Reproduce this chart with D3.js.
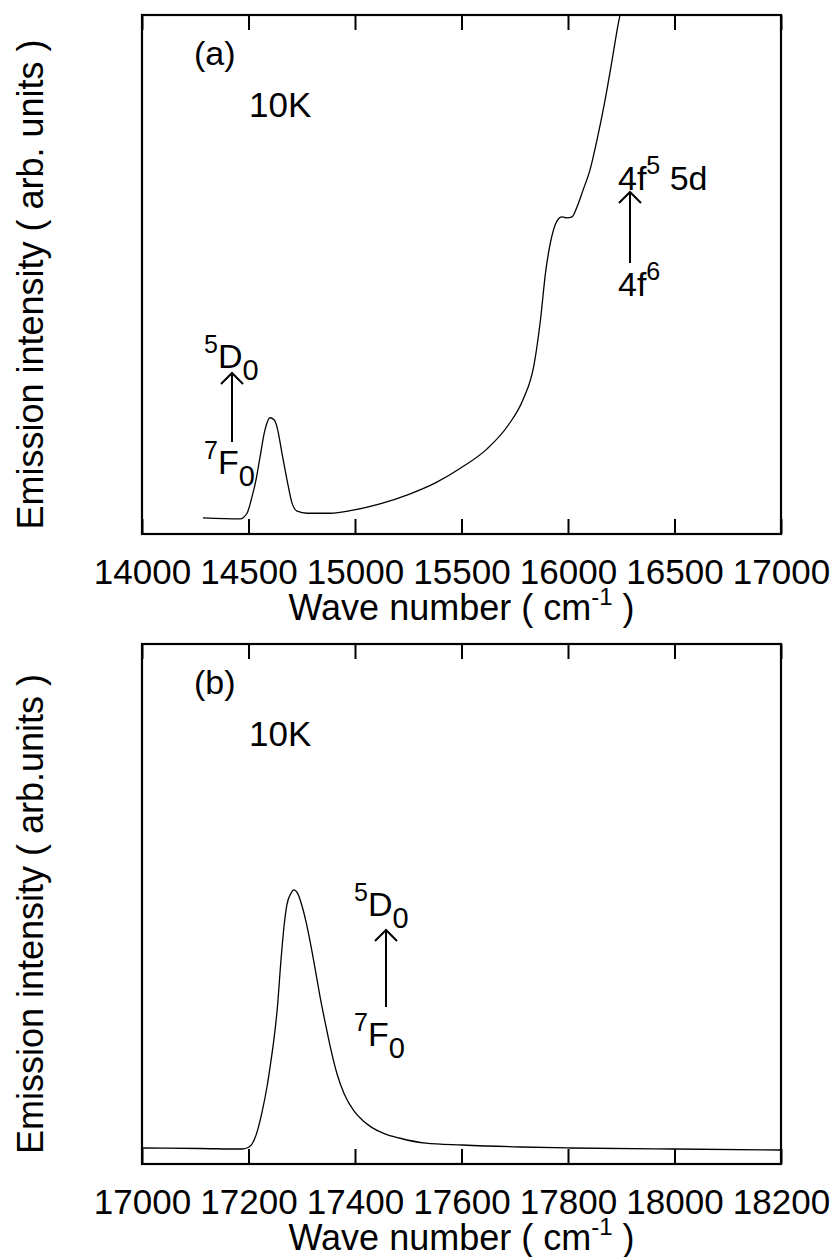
<!DOCTYPE html>
<html>
<head>
<meta charset="utf-8">
<script src="https://cdn.jsdelivr.net/npm/d3@7"></script>
<style>
  body { margin: 0; background: #fff; }
  text { font-family: "Liberation Sans", Arial, Helvetica, sans-serif; fill: #000; }
</style>
</head>
<body>
<div id="chart"></div>
<script>
// panel (a): emission at 10K, 14000 - 17000 cm-1
const waveA = [14286, 14460, 14493, 14516, 14535, 14554, 14577, 14601, 14620, 14634, 14657,
  14681, 14704, 14728, 14775, 14883, 14991, 15117, 15250, 15380, 15500, 15620, 15720, 15790,
  15840, 15870, 15895, 15922, 15948, 15972, 15995, 16019, 16042, 16071, 16103, 16136, 16174,
  16207, 16235, 16254];
const intensityA = [3.1, 2.9, 4.0, 7.1, 10.4, 14.8, 20.0, 22.4, 22.0, 20.6, 15.6,
  10.4, 6.0, 4.4, 4.0, 4.0, 4.6, 5.8, 7.6, 9.9, 12.8, 16.4, 21.0, 26.0,
  32.5, 41.0, 50.5, 57.0, 60.3, 61.1, 60.9, 61.1, 63.0, 66.3, 70.1, 75.9, 83.6,
  91.3, 98.1, 101.9];
const ticksA = [14000, 14500, 15000, 15500, 16000, 16500, 17000];

// panel (b): 17000 - 18200 cm-1
const waveB = [17000, 17109, 17188, 17201, 17214, 17225, 17235, 17240, 17248, 17254, 17261,
  17267, 17272, 17280, 17285, 17293, 17300, 17308, 17316, 17325, 17334, 17344, 17353, 17366,
  17380, 17398, 17415, 17432, 17456, 17483, 17533, 17601, 17710, 17804, 17997, 18200];
const intensityB = [3.08, 2.98, 2.88, 3.27, 5.5, 9.8, 15.0, 18.3, 24.2, 29.8, 39.2,
  46.0, 49.8, 52.1, 52.7, 51.9, 49.8, 46.6, 42.6, 37.6, 32.4, 27.2, 22.8, 17.4,
  13.4, 10.2, 8.3, 7.0, 5.8, 5.0, 4.0, 3.65, 3.27, 3.08, 2.88, 2.69];
const ticksB = [17000, 17200, 17400, 17600, 17800, 18000, 18200];

const W = 831, H = 1257;
const left = 142, right = 781;
const fs = 34;

const svg = d3.select('#chart').append('svg')
  .attr('width', W)
  .attr('height', H);

// term symbol like 5D0 : pre superscript, main, subscript, trailing superscript
function term(g, x, y, pre, main, sub, post) {
  const t = g.append('text').attr('x', x).attr('y', y).style('font-size', fs + 'px');
  if (pre) t.append('tspan').text(pre).attr('dy', -15).style('font-size', '25px');
  t.append('tspan').text(main).attr('dy', pre ? 15 : 0);
  if (sub) t.append('tspan').text(sub).attr('dy', 12).style('font-size', '29px');
  if (post) t.append('tspan').text(post).attr('dy', -16).style('font-size', '25px');
  return t;
}

function arrow(g, x, y1, y2) {
  g.append('line').attr('x1', x).attr('x2', x).attr('y1', y1).attr('y2', y2)
    .attr('stroke', '#000').attr('stroke-width', 2);
  g.append('path')
    .attr('d', `M${x - 11},${y1 + 11}L${x},${y1}L${x + 11},${y1 + 11}`)
    .attr('fill', 'none').attr('stroke', '#000').attr('stroke-width', 2);
}

function panel(p) {
  const g = svg.append('g');
  const x = d3.scaleLinear().domain(p.domain).range([left, right]);
  const y = d3.scaleLinear().domain([0, 100]).range([p.bottom, p.top]);

  const id = 'clip' + p.key.replace(/\W/g, '');
  svg.append('clipPath').attr('id', id).append('rect')
    .attr('x', left).attr('y', p.top).attr('width', right - left).attr('height', p.bottom - p.top);

  const line = d3.line()
    .x((d, i) => x(p.wave[i]))
    .y(d => y(d))
    .curve(d3.curveMonotoneX);

  g.append('path')
    .datum(p.values)
    .attr('clip-path', `url(#${id})`)
    .attr('d', line)
    .attr('fill', 'none')
    .attr('stroke', '#000')
    .attr('stroke-width', 1.3);

  // bottom axis, ticks point inward
  const xb = g.append('g').attr('transform', `translate(0,${p.bottom})`)
    .call(d3.axisBottom(x).tickValues(p.ticks).tickSizeInner(-15).tickSizeOuter(0)
      .tickPadding(25).tickFormat(d3.format('d')));
  xb.select('.domain').remove();
  xb.selectAll('.tick line').attr('stroke-width', 2);
  xb.selectAll('.tick text').style('font-size', '35px').attr('font-family', null);

  const xt = g.append('g').attr('transform', `translate(0,${p.top})`)
    .call(d3.axisTop(x).tickValues(p.ticks).tickSizeInner(-15).tickSizeOuter(0).tickFormat(''));
  xt.select('.domain').remove();
  xt.selectAll('.tick line').attr('stroke-width', 2);

  g.append('rect')
    .attr('x', left).attr('y', p.top)
    .attr('width', right - left).attr('height', p.bottom - p.top)
    .attr('fill', 'none').attr('stroke', '#000').attr('stroke-width', 2.2);

  // x title
  const xt2 = g.append('text')
    .attr('x', (left + right) / 2).attr('y', p.bottom + 86)
    .attr('text-anchor', 'middle')
    .style('font-size', '36px');
  xt2.append('tspan').text('Wave number ( cm');
  xt2.append('tspan').text('-1').attr('dy', -15).style('font-size', '24px');
  xt2.append('tspan').text(' )').attr('dy', 15);

  // y title
  g.append('text')
    .attr('transform', `translate(43,${(p.top + p.bottom) / 2 + 10}) rotate(-90)`)
    .attr('text-anchor', 'middle')
    .style('font-size', '36px')
    .text(p.ylabel);

  g.append('text').attr('x', 194).attr('y', p.top + 50).style('font-size', fs + 'px').text(p.key);
  g.append('text').attr('x', 249).attr('y', p.top + 102).style('font-size', '35px').text('10K');
  return { g, x, y };
}

const a = panel({
  key: '(a)', top: 15, bottom: 534, domain: [14000, 17000], ticks: ticksA,
  wave: waveA, values: intensityA, ylabel: 'Emission intensity ( arb. units )'
});
term(a.g, 204, 368, '5', 'D', '0');
arrow(a.g, 232, 373, 442);
term(a.g, 204, 474, '7', 'F', '0');
term(a.g, 618, 190, null, '4f', null, '5').append('tspan').text(' 5d').attr('dy', 16);
arrow(a.g, 630, 192, 263);
term(a.g, 618, 296, null, '4f', null, '6');

const b = panel({
  key: '(b)', top: 644, bottom: 1164, domain: [17000, 18200], ticks: ticksB,
  wave: waveB, values: intensityB, ylabel: 'Emission intensity ( arb.units )'
});
term(b.g, 354, 916, '5', 'D', '0');
arrow(b.g, 386, 930, 1007);
term(b.g, 354, 1046, '7', 'F', '0');
</script>
</body>
</html>
